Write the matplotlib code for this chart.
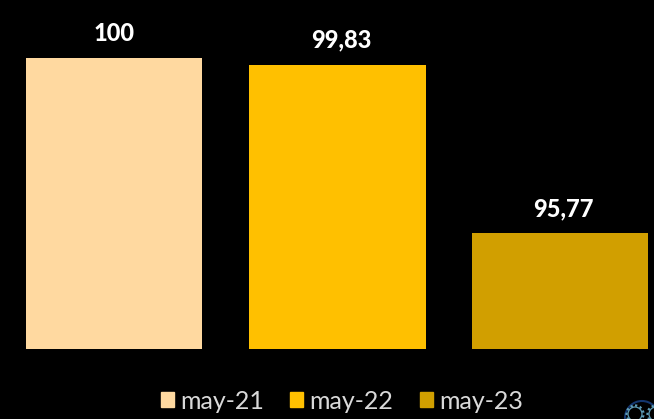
"""Index bars for three May readings on a black background."""

import matplotlib
matplotlib.use('Agg')
import matplotlib.pyplot as plt
from matplotlib.patches import Circle, Patch

W, H = 654, 419

# ---------------------------------------------------------------------------
# Data
# ---------------------------------------------------------------------------
categories = ['may-21', 'may-22', 'may-23']
values = [100, 99.83, 95.77]
value_labels = ['100', '99,83', '95,77']
colors = ['#FFD9A0', '#FFC000', '#D19F00']

plt.rcParams['font.family'] = ['Lato', 'DejaVu Sans']

fig = plt.figure(figsize=(W / 100, H / 100), dpi=100, facecolor='black')
ax = fig.add_axes([0, (H - 349) / H, 1, (349 - 58) / H])
ax.set_facecolor('black')

# x axis in pixel units, y axis truncated so the bars match the picture
bars = ax.bar([114, 337.5, 560], values, width=176.5, color=colors)
ax.set_xlim(0, W)
ax.set_ylim(92.97, 100)
ax.axis('off')

# the two decimal labels sit a little right of their bar centre
for bar, label, dx in zip(bars, value_labels, [0, 2.5, 2.5]):
    ax.annotate(label, (bar.get_x() + bar.get_width() / 2, bar.get_height()),
                xytext=(dx, 9.5), textcoords='offset points', ha='center',
                va='bottom', color='white', fontsize=17, fontweight='black',
                annotation_clip=False)

handles = [Patch(color=c, label=n) for c, n in zip(colors, categories)]
fig.legend(handles=handles, loc='center', bbox_to_anchor=(342 / W, 1 - 401 / H),
           ncol=3, frameon=False, labelcolor='#D9D9D9',
           prop={'family': 'Lato', 'size': 18},
           handlelength=0.52, handleheight=0.52, handletextpad=0.25,
           columnspacing=1.05, borderpad=0)

# small gear logo cut off by the bottom right corner
logo = fig.add_axes([0, 0, 1, 1], facecolor='none')
logo.set_xlim(0, W)
logo.set_ylim(H, 0)
logo.axis('off')
logo.add_patch(Circle((642, 418), 17, fill=False, ec='#14366E', lw=1.5))
for cx in [635, 656]:
    logo.add_patch(Circle((cx, 414), 7, fill=False, ec='#5F9DB8', lw=0.9))
    logo.add_patch(Circle((cx, 414), 8.5, fill=False, ec='#5F9DB8', lw=1.6,
                          ls=(0, (1, 1.2))))

fig.savefig('out.png', dpi=100, facecolor='black')
